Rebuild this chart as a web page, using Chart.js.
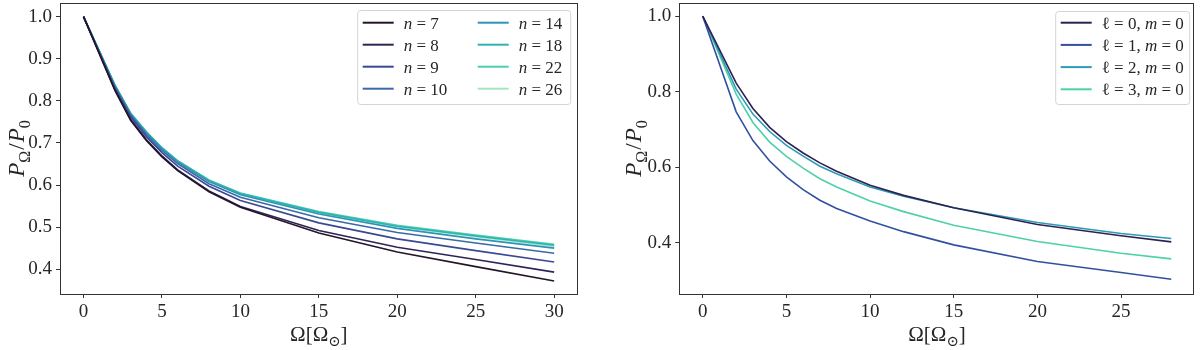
<!DOCTYPE html>
<html><head><meta charset="utf-8">
<script src="https://cdn.jsdelivr.net/npm/chart.js@4.4.0/dist/chart.umd.min.js"></script>
<style>
html,body{margin:0;padding:0;background:#fff;}
#wrap{position:relative;width:1200px;height:350px;overflow:hidden;}
.c{position:absolute;top:0;width:600px;height:350px;}
</style></head><body>
<div id="wrap">
<div class="c" style="left:0"><canvas id="left" width="600" height="350"></canvas></div>
<div class="c" style="left:600px"><canvas id="right" width="600" height="350"></canvas></div>
</div>
<script>
// ---------- data: left panel (radial order n) ----------
const omegaLeft = [0, 2, 3, 4, 5, 6, 8, 10, 15, 20, 25, 30];
const nLabels = ['7', '8', '9', '10', '14', '18', '22', '26'];
const n7  = [1.0, 0.825, 0.754, 0.706, 0.667, 0.634, 0.584, 0.547, 0.486, 0.441, 0.406, 0.372];
const n8  = [1.0, 0.826, 0.756, 0.708, 0.669, 0.636, 0.586, 0.549, 0.492, 0.452, 0.423, 0.393];
const n9  = [1.0, 0.830, 0.762, 0.715, 0.677, 0.645, 0.597, 0.563, 0.510, 0.472, 0.444, 0.417];
const n10 = [1.0, 0.833, 0.766, 0.720, 0.682, 0.651, 0.603, 0.571, 0.522, 0.487, 0.462, 0.438];
const n14 = [1.0, 0.836, 0.769, 0.724, 0.686, 0.655, 0.608, 0.577, 0.531, 0.497, 0.472, 0.450];
const n18 = [1.0, 0.837, 0.770, 0.726, 0.688, 0.657, 0.611, 0.580, 0.535, 0.502, 0.479, 0.457];
const n22 = [1.0, 0.838, 0.771, 0.727, 0.689, 0.658, 0.612, 0.581, 0.537, 0.504, 0.481, 0.459];
const n26 = [1.0, 0.838, 0.771, 0.726, 0.688, 0.657, 0.611, 0.580, 0.535, 0.501, 0.477, 0.454];
const leftSeries = [n7, n8, n9, n10, n14, n18, n22, n26];
const leftColors = ['#24152b', '#2d2457', '#3b4894', '#3a6aa6', '#2f94b3', '#2db3b4', '#4dcfae', '#a6e4c4'];

// ---------- data: right panel (degree l, m = 0) ----------
const omegaRight = [0, 2, 3, 4, 5, 6, 7, 8, 10, 12, 15, 20, 25, 28];
const lLabels = ['0', '1', '2', '3'];
const l0 = [1.0, 0.823, 0.756, 0.706, 0.668, 0.638, 0.612, 0.590, 0.553, 0.526, 0.493, 0.449, 0.419, 0.403];
const l1 = [1.0, 0.747, 0.671, 0.617, 0.575, 0.541, 0.513, 0.491, 0.458, 0.430, 0.395, 0.351, 0.322, 0.304];
const l2 = [1.0, 0.807, 0.741, 0.695, 0.658, 0.630, 0.603, 0.583, 0.548, 0.524, 0.493, 0.454, 0.425, 0.412];
const l3 = [1.0, 0.794, 0.719, 0.667, 0.629, 0.598, 0.570, 0.548, 0.511, 0.483, 0.447, 0.404, 0.373, 0.358];
const rightSeries = [l0, l1, l2, l3];
const rightColors = ['#2c2250', '#3250a0', '#2e9ab8', '#4fd1a8'];

// ---------- tick labels ----------
const xTicksLeft = [0, 5, 10, 15, 20, 25, 30];
const yTicksLeft = [0.4, 0.5, 0.6, 0.7, 0.8, 0.9, 1.0];
const xTicksRight = [0, 5, 10, 15, 20, 25];
const yTicksRight = [0.4, 0.6, 0.8, 1.0];

const FONT = '"Liberation Serif", "DejaVu Serif", serif';
const INK = '#262626';

function richWidth(ctx, parts, size) {
  let w = 0;
  for (const p of parts) {
    const s = p.sub ? size * 0.7 : size;
    ctx.font = (p.it ? 'italic ' : '') + s + 'px ' + FONT;
    w += ctx.measureText(p.t).width + (p.gap || 0);
  }
  return w;
}
function drawRich(ctx, parts, x, y, size, align) {
  let w = richWidth(ctx, parts, size);
  let cx = align === 'center' ? x - w / 2 : x;
  ctx.textAlign = 'left';
  ctx.textBaseline = 'alphabetic';
  for (const p of parts) {
    const s = p.sub ? size * 0.7 : size;
    ctx.font = (p.it ? 'italic ' : '') + s + 'px ' + FONT;
    ctx.fillText(p.t, cx, y + (p.sub ? size * 0.25 : 0));
    cx += ctx.measureText(p.t).width + (p.gap || 0);
  }
}

const decor = {
  id: 'decor',
  afterDraw(chart, args, o) {
    const ctx = chart.ctx, a = chart.chartArea;
    ctx.save();
    // frame (all four spines)
    ctx.strokeStyle = '#333';
    ctx.lineWidth = 1;
    ctx.strokeRect(Math.round(a.left) + 0.5, Math.round(a.top) + 0.5,
                   Math.round(a.right - a.left) - 1, Math.round(a.bottom - a.top));
    ctx.fillStyle = INK;
    // x title
    drawRich(ctx, [{t: 'Ω'}, {t: '[Ω'}, {t: '⊙', sub: true}, {t: ']'}],
             (a.left + a.right) / 2, 341, 21, 'center');
    // y title (rotated)
    ctx.save();
    ctx.translate(o.yTitleX, (a.top + a.bottom) / 2);
    ctx.rotate(-Math.PI / 2);
    drawRich(ctx, [{t: 'P', it: true}, {t: 'Ω', sub: true, gap: 1}, {t: '/', gap: 1},
                   {t: 'P', it: true}, {t: '0', sub: true}], 0, 7, 23, 'center');
    ctx.restore();
    // legend
    const L = o.legend;
    const bx = a.right - L.inset - L.w, by = L.top;
    ctx.beginPath();
    ctx.roundRect(bx + 0.5, by + 0.5, L.w, L.h, 3);
    ctx.fillStyle = 'rgba(255,255,255,0.85)';
    ctx.fill();
    ctx.strokeStyle = '#d4d4d4';
    ctx.stroke();
    chart.data.datasets.forEach((ds, i) => {
      const col = Math.floor(i / L.rows), row = i % L.rows;
      const hx = bx + L.colX[col], hy = by + L.row0 + row * L.rowStep;
      ctx.strokeStyle = ds.borderColor;
      ctx.lineWidth = 2;
      ctx.beginPath();
      ctx.moveTo(hx, hy); ctx.lineTo(hx + L.hLen, hy);
      ctx.stroke();
      ctx.fillStyle = INK;
      drawRich(ctx, L.parts(ds.label), hx + L.hLen + 10, hy + 6, 17, 'left');
    });
    ctx.restore();
  }
};

function makeDatasets(xs, series, labels, colors) {
  return series.map((ys, i) => ({
    label: labels[i],
    data: xs.map((x, j) => ({x: x, y: ys[j]})),
    borderColor: colors[i],
    backgroundColor: colors[i],
    borderWidth: 1.6,
    pointRadius: 0,
    tension: 0,
    fill: false
  }));
}

function makeChart(id, cfg) {
  return new Chart(document.getElementById(id), {
    type: 'line',
    data: {datasets: makeDatasets(cfg.xs, cfg.series, cfg.labels, cfg.colors)},
    options: {
      responsive: false,
      animation: false,
      devicePixelRatio: 1,
      layout: {padding: {left: 0, right: cfg.padRight, top: 3, bottom: 0}},
      plugins: {
        legend: {display: false},
        tooltip: {enabled: false},
        decor: {yTitleX: cfg.yTitleX, legend: cfg.legend}
      },
      scales: {
        x: {
          type: 'linear', min: cfg.xMin, max: cfg.xMax,
          afterBuildTicks: s => { s.ticks = cfg.xTicks.map(v => ({value: v})); },
          afterFit: s => { s.height = 56; s.paddingLeft = 0; s.paddingRight = 0; },
          grid: {display: true, drawOnChartArea: false, drawTicks: true, tickLength: 4, color: '#333'},
          border: {display: false},
          ticks: {font: {family: FONT, size: 19}, color: INK, padding: 3, maxRotation: 0,
                  callback: v => String(v)}
        },
        y: {
          type: 'linear', min: cfg.yMin, max: cfg.yMax,
          afterBuildTicks: s => { s.ticks = cfg.yTicks.map(v => ({value: v})); },
          afterFit: s => { s.width = cfg.yWidth; s.paddingTop = 0; s.paddingBottom = 0; },
          grid: {display: true, drawOnChartArea: false, drawTicks: true, tickLength: 4, color: '#333'},
          border: {display: false},
          ticks: {font: {family: FONT, size: 19}, color: INK, padding: 4,
                  callback: v => v.toFixed(1)}
        }
      }
    },
    plugins: [decor]
  });
}

makeChart('left', {
  xs: omegaLeft, series: leftSeries, labels: nLabels, colors: leftColors,
  xMin: -1.5, xMax: 31.5, yMin: 0.341, yMax: 1.0325,
  xTicks: xTicksLeft, yTicks: yTicksLeft,
  padRight: 22.3, yWidth: 60, yTitleX: 17,
  legend: {inset: 7.5, top: 10, w: 213, h: 94, rows: 4, row0: 12.7, rowStep: 22,
           colX: [5.5, 120.5], hLen: 31,
           parts: lab => [{t: 'n', it: true}, {t: ' = ' + lab}]}
});

makeChart('right', {
  xs: omegaRight, series: rightSeries, labels: lLabels, colors: rightColors,
  xMin: -1.4, xMax: 29.4, yMin: 0.265, yMax: 1.035,
  xTicks: xTicksRight, yTicks: yTicksRight,
  padRight: 5.3, yWidth: 79.3, yTitleX: 34,
  legend: {inset: 5.5, top: 11, w: 134, h: 93, rows: 4, row0: 11.7, rowStep: 22.2,
           colX: [5.5], hLen: 31,
           parts: lab => [{t: 'ℓ', it: false}, {t: ' = ' + lab + ', '}, {t: 'm', it: true}, {t: ' = 0'}]}
});
</script>
</body></html>
